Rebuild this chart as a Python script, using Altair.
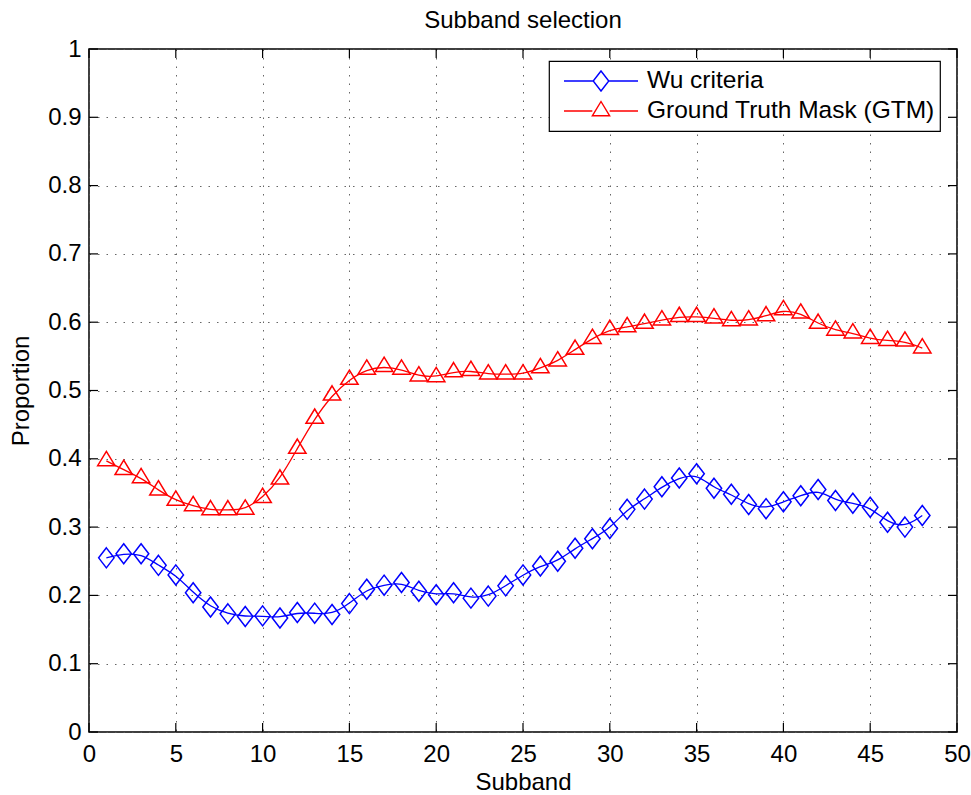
import altair as alt
import pandas as pd

# Subband index and the proportion selected by each criterion
subbands = list(range(1, 49))
wu_criteria = [
    0.255, 0.261, 0.261, 0.244, 0.230, 0.204, 0.183, 0.173, 0.169, 0.170,
    0.167, 0.175, 0.174, 0.172, 0.188, 0.209, 0.215, 0.219, 0.206, 0.201,
    0.204, 0.196, 0.199, 0.214, 0.230, 0.243, 0.250, 0.269, 0.283, 0.298,
    0.326, 0.341, 0.359, 0.372, 0.378, 0.357, 0.348, 0.333, 0.327, 0.337,
    0.346, 0.355, 0.339, 0.335, 0.329, 0.307, 0.300, 0.317,
]
gtm = [
    0.397, 0.384, 0.372, 0.354, 0.339, 0.331, 0.325, 0.325, 0.326, 0.343,
    0.370, 0.415, 0.459, 0.493, 0.516, 0.531, 0.535, 0.531, 0.521, 0.520,
    0.527, 0.529, 0.524, 0.524, 0.524, 0.533, 0.543, 0.560, 0.576, 0.589,
    0.593, 0.598, 0.603, 0.608, 0.608, 0.606, 0.602, 0.603, 0.609, 0.618,
    0.613, 0.598, 0.588, 0.584, 0.576, 0.573, 0.572, 0.562,
]
series_names = ["Wu criteria", "Ground Truth Mask (GTM)"]
series_colors = ["#0000ff", "#ff0000"]

x_ticks = list(range(0, 51, 5))
y_ticks = [round(i * 0.1, 1) for i in range(11)]

W, H = 868, 683
FONT = "Liberation Sans"

wu_df = pd.DataFrame({"Subband": subbands, "Proportion": wu_criteria, "series": series_names[0]})
gtm_df = pd.DataFrame({"Subband": subbands, "Proportion": gtm, "series": series_names[1]})
all_df = pd.concat([wu_df, gtm_df])

# marker outlines: tall diamond and a triangle centred on its centroid
diamond = "M0,-1L0.77,0L0,1L-0.77,0Z"
triangle = "M0,-0.95L0.87,0.48L-0.87,0.48Z"
# legend glyphs: a line segment with the marker in the middle
leg_diamond = "M-1,0L-0.21,0M0.21,0L1,0M-0.21,0L0,-0.27L0.21,0L0,0.27Z"
leg_triangle = "M-1,0L-0.234,0M0.234,0L1,0M0,-0.257L0.234,0.13L-0.234,0.13Z"

x_scale = alt.Scale(domain=[0, 50], nice=False, zero=False)
y_scale = alt.Scale(domain=[0, 1], nice=False)

x_enc = alt.X("Subband:Q", scale=x_scale, title="Subband",
              axis=alt.Axis(values=x_ticks, format="d", labelFlush=False))
y_enc = alt.Y("Proportion:Q", scale=y_scale, title="Proportion",
              axis=alt.Axis(values=y_ticks, format=".1~f", labelFlush=False))


def series_layers(frame, color, shape):
    line = alt.Chart(frame).mark_line(
        strokeWidth=1.3, interpolate="basis", color=color
    ).encode(x=x_enc, y=y_enc)
    pts = alt.Chart(frame).mark_point(
        filled=False, size=400, strokeWidth=1.5, opacity=1, color=color, shape=shape
    ).encode(x=x_enc, y=y_enc)
    return [line, pts]


legend = alt.Legend(
    title=None,
    orient="none",
    legendX=460,
    legendY=12,
    direction="vertical",
    symbolSize=5476,
    symbolOffset=9,
    symbolStrokeWidth=1.4,
    symbolFillColor="transparent",
    labelOffset=8,
    labelFont=FONT,
    labelFontSize=24.5,
    labelColor="black",
    labelLimit=600,
)

# key layer: carries the colour/shape scales for the legend only
key = alt.Chart(all_df).transform_filter("false").mark_point(
    filled=False, size=5476, strokeWidth=1.4, opacity=1
).encode(
    x=x_enc,
    y=y_enc,
    color=alt.Color("series:N", scale=alt.Scale(domain=series_names, range=series_colors),
                    legend=legend, sort=series_names),
    shape=alt.Shape("series:N", scale=alt.Scale(domain=series_names, range=[leg_diamond, leg_triangle]),
                    legend=legend, sort=series_names),
)

# inward tick marks on all four sides of the frame
xt = pd.DataFrame({"t": x_ticks})
yt = pd.DataFrame({"t": y_ticks})
tick_len = 9
xt_bottom = alt.Chart(xt).mark_rule(color="black", strokeWidth=1.2).encode(
    x=alt.X("t:Q", scale=x_scale), y=alt.value(H), y2=alt.value(H - tick_len))
xt_top = alt.Chart(xt).mark_rule(color="black", strokeWidth=1.2).encode(
    x=alt.X("t:Q", scale=x_scale), y=alt.value(0), y2=alt.value(tick_len))
yt_left = alt.Chart(yt).mark_rule(color="black", strokeWidth=1.2).encode(
    y=alt.Y("t:Q", scale=y_scale), x=alt.value(0), x2=alt.value(tick_len))
yt_right = alt.Chart(yt).mark_rule(color="black", strokeWidth=1.2).encode(
    y=alt.Y("t:Q", scale=y_scale), x=alt.value(W), x2=alt.value(W - tick_len))

layers = (
    series_layers(wu_df, series_colors[0], diamond)
    + series_layers(gtm_df, series_colors[1], triangle)
    + [xt_bottom, xt_top, yt_left, yt_right, key]
)

chart = alt.layer(*layers).properties(
    width=W,
    height=H,
    padding={"left": 89, "top": 49, "right": 14, "bottom": 63},
    autosize=alt.AutoSizeParams(type="none"),
    title=alt.TitleParams("Subband selection", font=FONT, fontSize=24,
                          fontWeight="normal", color="black", offset=4),
).configure_view(
    stroke="black", strokeWidth=1.5,
).configure_legend(
    fillColor="white",
    strokeColor="black",
    strokeWidth=1.2,
    padding=5,
    cornerRadius=0,
    clipHeight=30,
    rowPadding=0,
).configure_axis(
    labelFont=FONT,
    labelFontSize=24,
    labelColor="black",
    titleFont=FONT,
    titleFontSize=24,
    titleFontWeight="normal",
    titleColor="black",
    ticks=False,
    domain=False,
    grid=True,
    gridColor="#555555",
    gridDash=[1.5, 7],
    gridWidth=1,
    gridOpacity=0.9,
).configure_axisX(
    labelPadding=10,
    titlePadding=4,
).configure_axisY(
    labelPadding=8,
    titlePadding=14,
)

chart.save("out.html", embed_options={"renderer": "svg", "actions": False})
